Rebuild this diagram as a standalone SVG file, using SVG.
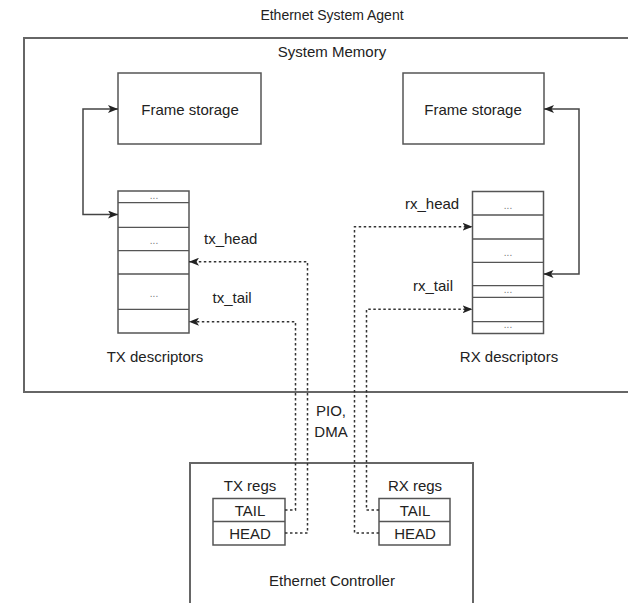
<svg xmlns="http://www.w3.org/2000/svg" width="628" height="603" viewBox="0 0 628 603">
<style>
text{font-family:"Liberation Sans",Arial,sans-serif;font-size:15px;fill:#222}
.c{text-anchor:middle}
.title{font-size:14px}
.dots{font-size:10px;fill:#777;text-anchor:middle}
.box{fill:#fff;stroke:#555;stroke-width:1.5}
.cont{fill:none;stroke:#666;stroke-width:2}
.row{stroke:#555;stroke-width:1.3}
.solid{fill:none;stroke:#444;stroke-width:1.5}
.dash{fill:none;stroke:#333;stroke-width:1.5;stroke-dasharray:2.5,2.5}
</style>
<defs>
<marker id="ah" viewBox="0 0 10 8" refX="10" refY="4" markerWidth="10" markerHeight="8" markerUnits="userSpaceOnUse" orient="auto-start-reverse">
<path d="M0,0 L10,4 L0,8 L2.5,4 Z" fill="#222"/>
</marker>
</defs>
<rect width="628" height="603" fill="#fff"/>
<text class="c title" x="332" y="20">Ethernet System Agent</text>

<g id="system-memory">
<path class="cont" d="M630,38 H24 V392 H630"/>
<text class="c" x="332" y="57">System Memory</text>
</g>

<g id="tx-frame-storage">
<rect class="box" x="118" y="73" width="143" height="71"/>
<text class="c" x="190" y="115">Frame storage</text>
</g>

<g id="rx-frame-storage">
<rect class="box" x="403" y="73" width="141" height="71"/>
<text class="c" x="473" y="115">Frame storage</text>
</g>

<g id="tx-descriptors">
<rect class="box" x="118" y="191" width="71" height="142"/>
<path class="row" d="M118,202.7H189M118,227.3H189M118,250.7H189M118,274H189M118,309.3H189"/>
<text class="dots" x="154" y="199">...</text>
<text class="dots" x="154" y="244">...</text>
<text class="dots" x="154" y="297">...</text>
<text class="c" x="155" y="362">TX descriptors</text>
</g>

<g id="rx-descriptors">
<rect class="box" x="472.5" y="191.5" width="71" height="142"/>
<path class="row" d="M472.5,215H543.5M472.5,239H543.5M472.5,262.3H543.5M472.5,285.7H543.5M472.5,297.3H543.5M472.5,321.7H543.5"/>
<text class="dots" x="508" y="209">...</text>
<text class="dots" x="508" y="256">...</text>
<text class="dots" x="508" y="293">...</text>
<text class="dots" x="508" y="328">...</text>
<text class="c" x="509" y="362">RX descriptors</text>
</g>

<g id="ethernet-controller">
<path class="cont" d="M190,610 V463 H473 V610"/>
<text class="c" x="332" y="586">Ethernet Controller</text>
</g>

<g id="tx-regs">
<text class="c" x="250" y="491">TX regs</text>
<rect class="box" x="213" y="498.5" width="72" height="46.5"/>
<path class="row" d="M213,521.5H285"/>
<text class="c" x="250" y="516">TAIL</text>
<text class="c" x="250" y="539">HEAD</text>
</g>

<g id="rx-regs">
<text class="c" x="415" y="491">RX regs</text>
<rect class="box" x="379" y="498.5" width="71" height="46.5"/>
<path class="row" d="M379,521.5H450"/>
<text class="c" x="415" y="516">TAIL</text>
<text class="c" x="415" y="539">HEAD</text>
</g>

<g id="labels">
<text x="204" y="244">tx_head</text>
<text x="212.5" y="303">tx_tail</text>
<text x="405" y="209">rx_head</text>
<text x="413" y="291">rx_tail</text>
<text class="c" x="331" y="416">PIO,</text>
<text class="c" x="331" y="437">DMA</text>
</g>

<g id="connectors">
<path class="solid" d="M118,109 H83 V214.5 H118" marker-start="url(#ah)" marker-end="url(#ah)"/>
<path class="solid" d="M544,109 H579 V274 H543.5" marker-start="url(#ah)" marker-end="url(#ah)"/>
<path class="dash" d="M285,533 H307.5 V261.7 H189" marker-end="url(#ah)"/>
<path class="dash" d="M285,510 H295.5 V321.7 H189" marker-end="url(#ah)"/>
<path class="dash" d="M379,533 H354.5 V226.7 H472.5" marker-end="url(#ah)"/>
<path class="dash" d="M379,510 H366.5 V309.3 H472.5" marker-end="url(#ah)"/>
</g>
</svg>
